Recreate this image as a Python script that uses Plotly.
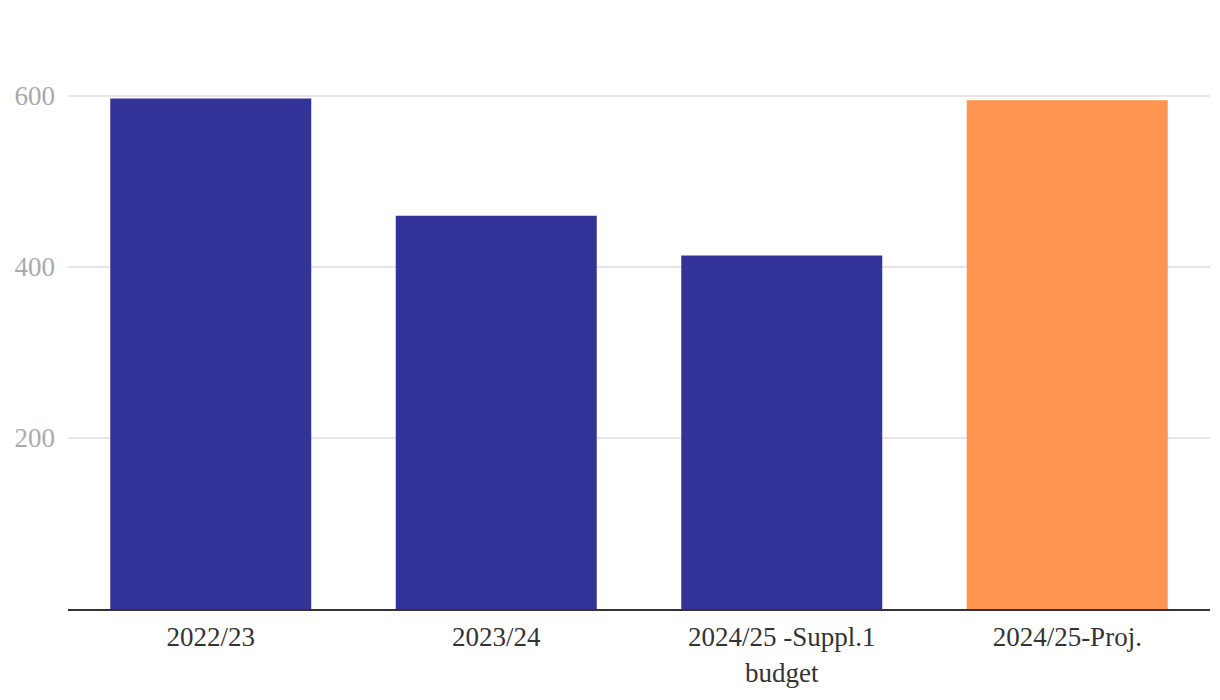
import plotly.graph_objects as go

categories = ["2022/23", "2023/24", "2024/25 -Suppl.1<br>budget", "2024/25-Proj."]
values = [596.5, 459.5, 413.0, 594.5]
colors = ["#343399", "#343399", "#343399", "#FF9550"]
y_ticks = [200, 400, 600]

fig = go.Figure(go.Bar(x=categories, y=values, marker=dict(color=colors, line=dict(width=0)),
                       hoverinfo="x+y"))
fig.update_layout(
    width=1220, height=700,
    margin=dict(l=60, r=18, t=2, b=99, autoexpand=False),
    paper_bgcolor="white", plot_bgcolor="white",
    bargap=0.296,
    showlegend=False,
    font=dict(family="Liberation Serif, DejaVu Serif, serif", size=27, color="#333333"),
)
fig.update_xaxes(showline=True, linecolor="#333333", linewidth=2, showgrid=False,
                 ticks="", tickfont=dict(size=27, color="#333333"), automargin=False,
                 ticklabelstandoff=3)
fig.update_yaxes(range=[0, 700], tickvals=y_ticks, showgrid=True, gridcolor="#e6e6e6",
                 gridwidth=1.5, zeroline=False, showline=False, ticks="",
                 tickfont=dict(size=27, color="#aaaaaa"), ticklabelstandoff=12, automargin=False)
fig.write_html("out.html")
